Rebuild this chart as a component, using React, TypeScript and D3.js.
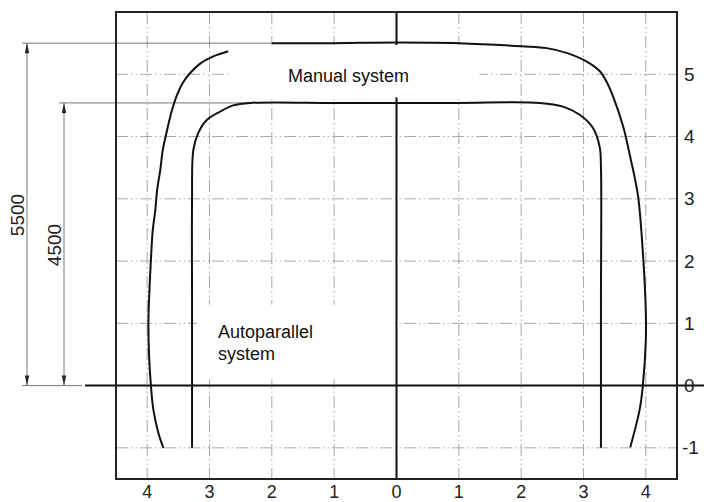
import React, { useRef, useEffect } from 'react';
import * as d3 from 'd3';

// tick values
const xTicks = [-4, -3, -2, -1, 0, 1, 2, 3, 4];
const yTicks = [-1, 0, 1, 2, 3, 4, 5];

// manual system boundary (left branch, then top + right branch)
const manualLeft: [number, number][] = [
  [-2.70, 5.37], [-2.93, 5.29], [-3.15, 5.17], [-3.31, 5.02], [-3.43, 4.86],
  [-3.52, 4.67], [-3.60, 4.43], [-3.67, 4.15], [-3.75, 3.78], [-3.79, 3.46],
  [-3.84, 3.14], [-3.87, 2.81], [-3.91, 2.50], [-3.94, 2.02],
  [-3.97, 1.38], [-3.98, 0.99], [-3.97, 0.49], [-3.94, 0.0], [-3.90, -0.39],
  [-3.82, -0.76], [-3.74, -1.0]
];
const manualRight: [number, number][] = [
  [-2.0, 5.50], [-1.0, 5.50], [0, 5.51], [1.0, 5.50], [2.01, 5.45],
  [2.41, 5.42], [2.74, 5.34], [3.06, 5.20], [3.27, 5.04], [3.39, 4.84],
  [3.48, 4.63], [3.64, 4.15], [3.75, 3.67], [3.83, 3.30], [3.88, 3.01],
  [3.96, 2.02], [4.0, 1.17], [4.0, 0.73], [3.95, -0.02], [3.90, -0.39],
  [3.75, -0.99]
];

// autoparallel system boundary
const autoCurve: [number, number][] = [
  [-3.28, -1.0], [-3.28, 0.5], [-3.28, 1.37], [-3.28, 2.98], [-3.26, 3.78],
  [-3.18, 4.06], [-3.04, 4.27], [-2.83, 4.40], [-2.62, 4.50], [-2.35, 4.54],
  [-1.0, 4.54], [0, 4.54], [1.0, 4.54], [2.30, 4.54], [2.67, 4.48],
  [2.94, 4.35], [3.15, 4.14], [3.26, 3.83], [3.28, 3.51], [3.28, 1.37],
  [3.28, 0.5], [3.28, -1.0]
];

// dimensions (mm) and their heights in chart units
const dimLabels = ['5500', '4500'];
const dimHeights = [5.5, 4.54];

const FONT = 'Liberation Sans, Arial, sans-serif';

const App = () => {
  const svgRef = useRef<SVGSVGElement>(null);

  useEffect(() => {
    const svg = d3.select(svgRef.current);
    svg.selectAll('*').remove();

    const x = d3.scaleLinear().domain([-4.5, 4.5]).range([116, 677]);
    const y = d3.scaleLinear().domain([-1.5, 6]).range([479, 12]);

    const gridColor = '#a8a8a8';
    const dash = '12,3,1.5,3,1.5,3';

    // grid
    const grid = svg.append('g');
    grid.selectAll('.vgrid')
      .data(xTicks.filter(d => d !== 0))
      .enter().append('line')
      .attr('x1', d => x(d)).attr('x2', d => x(d))
      .attr('y1', y(6)).attr('y2', y(-1.5))
      .attr('stroke', gridColor).attr('stroke-dasharray', dash);
    grid.selectAll('.hgrid')
      .data(yTicks.filter(d => d !== 0))
      .enter().append('line')
      .attr('x1', x(-4.5)).attr('x2', x(4.5))
      .attr('y1', d => y(d)).attr('y2', d => y(d))
      .attr('stroke', gridColor).attr('stroke-dasharray', dash);

    // zero axes
    svg.append('line')
      .attr('x1', x(0)).attr('x2', x(0))
      .attr('y1', y(6)).attr('y2', y(-1.5))
      .attr('stroke', '#111').attr('stroke-width', 2);
    svg.append('line')
      .attr('x1', 85).attr('x2', 704)
      .attr('y1', y(0)).attr('y2', y(0))
      .attr('stroke', '#111').attr('stroke-width', 2);

    // white label backgrounds
    svg.append('rect')
      .attr('x', x(-2.7)).attr('y', y(5.47))
      .attr('width', x(1.33) - x(-2.7)).attr('height', y(4.63) - y(5.47))
      .attr('fill', 'white');
    svg.append('rect')
      .attr('x', x(-3.2)).attr('y', y(1.3))
      .attr('width', x(-0.03) - x(-3.2)).attr('height', y(0.1) - y(1.3))
      .attr('fill', 'white');

    // dimension lines
    const dimColor = '#777';
    const dimX = [27, 64];
    const extStart = [22, 59];
    const extEnd = [x(-2.0), x(-2.35)];
    dimHeights.forEach((h, i) => {
      svg.append('line')
        .attr('x1', extStart[i]).attr('x2', extEnd[i])
        .attr('y1', y(h)).attr('y2', y(h))
        .attr('stroke', dimColor).attr('stroke-width', 1);
      svg.append('line')
        .attr('x1', dimX[i]).attr('x2', dimX[i])
        .attr('y1', y(h)).attr('y2', y(0))
        .attr('stroke', dimColor).attr('stroke-width', 1);
      // arrowheads
      const ax = dimX[i];
      const top = y(h);
      const bot = y(0);
      svg.append('path')
        .attr('d', `M${ax},${top} L${ax - 2.2},${top + 10} L${ax + 2.2},${top + 10} Z`)
        .attr('fill', '#222');
      svg.append('path')
        .attr('d', `M${ax},${bot} L${ax - 2.2},${bot - 10} L${ax + 2.2},${bot - 10} Z`)
        .attr('fill', '#222');
      svg.append('text')
        .attr('transform', `translate(${i === 0 ? 17 : 54.5},${i === 0 ? 215 : 245}) rotate(-90)`)
        .attr('text-anchor', 'middle')
        .attr('dominant-baseline', 'central')
        .attr('font-family', FONT)
        .attr('font-size', 19)
        .attr('fill', '#222')
        .text(dimLabels[i]);
    });
    svg.append('line')
      .attr('x1', 22).attr('x2', 82)
      .attr('y1', y(0)).attr('y2', y(0))
      .attr('stroke', dimColor).attr('stroke-width', 1);

    // curves
    const line = d3.line<[number, number]>()
      .x(d => x(d[0]))
      .y(d => y(d[1]))
      .curve(d3.curveCatmullRom.alpha(0.5));
    [manualLeft, manualRight, autoCurve].forEach(pts => {
      svg.append('path')
        .datum(pts)
        .attr('fill', 'none')
        .attr('stroke', '#111')
        .attr('stroke-width', 2)
        .attr('d', line);
    });

    // frame
    svg.append('rect')
      .attr('x', x(-4.5)).attr('y', y(6))
      .attr('width', x(4.5) - x(-4.5)).attr('height', y(-1.5) - y(6))
      .attr('fill', 'none').attr('stroke', '#222').attr('stroke-width', 2);

    // tick labels
    svg.append('g').selectAll('text')
      .data(xTicks)
      .enter().append('text')
      .attr('x', d => x(d))
      .attr('y', 498)
      .attr('text-anchor', 'middle')
      .attr('font-family', FONT).attr('font-size', 18).attr('fill', '#222')
      .text(d => Math.abs(d));
    svg.append('g').selectAll('text')
      .data(yTicks)
      .enter().append('text')
      .attr('x', d => (d < 0 ? 682 : 684))
      .attr('y', d => y(d))
      .attr('dominant-baseline', 'central')
      .attr('font-family', FONT).attr('font-size', 19).attr('fill', '#222')
      .text(d => d);

    // labels
    svg.append('text')
      .attr('x', 288).attr('y', 82)
      .attr('font-family', FONT).attr('font-size', 18).attr('fill', '#111')
      .text('Manual system');
    const auto = svg.append('text')
      .attr('font-family', FONT).attr('font-size', 18).attr('fill', '#111');
    auto.append('tspan').attr('x', 218).attr('y', 338).text('Autoparallel');
    auto.append('tspan').attr('x', 218).attr('y', 360).text('system');
  }, []);

  return (
    <svg
      ref={svgRef}
      width={704}
      height={502}
      style={{ position: 'absolute', left: 0, top: 0, background: 'white' }}
    />
  );
};

export default App;
